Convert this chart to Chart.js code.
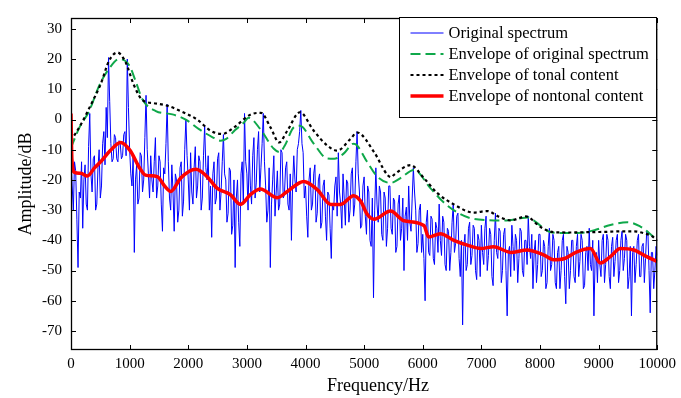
<!DOCTYPE html>
<html>
<head>
<meta charset="utf-8">
<script src="https://cdn.jsdelivr.net/npm/chart.js@4/dist/chart.umd.min.js"></script>
<style>
  html, body { margin: 0; padding: 0; background: #fff; }
  #wrap { width: 681px; height: 398px; }
</style>
</head>
<body>
<div id="wrap"><canvas id="spec" width="681" height="398"></canvas></div>
<script>
/* ---------- Daten ---------- */
// Spektrum: Bins im Abstand von 20 Hz, 0 ... 10000 Hz (eine Zeile = 1000 Hz)
const SPEC_DF = 20;
const SPEC_DB = [
  -12, -22, -30, -14, -17, -33, -49, -24, -26, -14, -36, -20, -15, -28, -30, -9, 2, -18, -24, -13, -12, -30, -28, -16, -10,
  -26, -22, -8, -4, -15, 4, -6, 20.5, 6, -8, -14, -13, -5, -6, -13, -14, -7, -8, -13, -12, -5, -4, -12, 20, 4,
  -10, -18, -22, -12, -44, -20, -15, -28, -26, -11, -12, -24, -20, -6, 8, -10, -18, -26, -12, -20, -24, -14, -6, -26, -22,
  -12, -14, -28, -37, -16, -18, -8, 5, -14, -26, -30, -15, -24, -37, -18, -20, -34, -30, -16, -14, -32, -27, -10, 0, -12,
  -20, -30, -11, -24, -28, -16, -9, -26, -22, -12, -14, -30, -26, -12, -2, -16, -20, -12, -30, -22, -39, -18, -14, -28, -26,
  -13, -11, -30, -24, -14, -5, -18, -20, -34, -31, -16, -17, -38, -35, -20, -49, -26, -20, -34, -42, -18, -14, -28, 2, -14,
  -18, -30, -10, -22, -28, -12, -6, -26, -21, -10, -4, -24, -16, -8, 2, -14, -22, -34, -30, -16, -49, -28, -20, -12, -32,
  -24, -17, -30, -28, -10, -11, -26, -25, -16, -14, -28, -30, -18, -40, -22, -12, -20, -24, -10, -8, -4, 3, -8, -11, -26,
  -22, -32, -39, -20, -16, -30, -28, -18, -15, -34, -31, -20, -18, -36, -34, -22, -20, -32, -40, -24, -25, -36, -46, -28, -30,
  -22, -19, -32, -11, -24, -28, -36, -18, -26, -35, -20, -21, -34, -30, -18, -16, -32, -28, -14, -4, -18, -24, -36, -35, -22,
  -19, -32, -38, -22, -24, -40, -42, -26, -59, -30, -16, -28, -34, -22, -24, -38, -40, -24, -26, -42, -36, -22, -22, -36, -38,
  -26, -27, -44, -42, -28, -25, -40, -36, -26, -50, -32, -29, -40, -22, -34, -37, -26, -16, -24, -30, -44, -41, -30, -28, -44,
  -38, -46, -60, -34, -30, -44, -45, -32, -33, -46, -48, -34, -36, -44, -28, -40, -45, -32, -34, -48, -50, -36, -37, -50, -44,
  -34, -28, -44, -41, -32, -31, -46, -52, -40, -68, -42, -38, -50, -48, -36, -34, -48, -45, -35, -36, -50, -53, -38, -40, -52,
  -35, -44, -48, -36, -32, -50, -45, -36, -38, -52, -55, -40, -31, -44, -46, -36, -37, -54, -50, -38, -36, -50, -65, -44, -42,
  -52, -35, -42, -50, -38, -40, -54, -46, -36, -37, -50, -52, -40, -40, -48, -32, -42, -46, -38, -56, -44, -40, -54, -48, -38,
  -38, -52, -50, -40, -42, -56, -54, -42, -36, -50, -48, -38, -40, -54, -56, -44, -42, -56, -50, -40, -38, -52, -61, -42, -44,
  -56, -50, -40, -40, -52, -54, -42, -38, -52, -47, -38, -40, -56, -55, -44, -42, -50, -36, -48, -50, -40, -65, -46, -44, -54,
  -40, -48, -52, -40, -38, -54, -48, -38, -40, -52, -56, -42, -39, -52, -47, -40, -38, -54, -50, -40, -37, -50, -46, -38, -40,
  -56, -52, -42, -65, -44, -42, -54, -48, -40, -38, -52, -52, -42, -41, -54, -46, -37, -37, -50, -64, -44, -44, -56, -50, -42,
  -45
];

// Hüllkurve des Originalspektrums
const ORIG_ENV_HZ = [0, 145, 310, 485, 655, 820, 995, 1108, 1220, 1447, 1730, 1957, 2183, 2408, 2550, 2640, 2800, 2950,
  3030, 3230, 3460, 3560, 3650, 3800, 3905, 4140, 4370, 4490, 4650, 4820, 4880, 5050, 5225, 5450, 5620, 5850, 6130, 6360,
  6585, 6820, 7100, 7430, 7650, 7780, 8000, 8180, 8450, 8700, 8950, 9200, 9490, 9700, 9850, 10000];
const ORIG_ENV_DB = [-9.3, -2.6, 2.8, 11.4, 17, 20, 17.9, 12.4, 6.6, 2.8, 1.7, 0, -3.2, -5.8, -7, -6.5, -3.5, -1,
  0.6, -3.2, -9.7, -10.8, -8.5, -2.6, -2.1, -8, -12.9, -13, -11.3, -8, -8.6, -14, -18.9, -21, -19.4, -16.7, -22.7, -27.5,
  -30.7, -32.7, -33.3, -33.4, -32.8, -32.4, -35, -37.3, -37.6, -37.5, -36.5, -34.9, -34, -35.3, -37.4, -40];

// Hüllkurve des tonalen Anteils
const TONAL_ENV_HZ = [0, 170, 340, 510, 650, 790, 930, 1073, 1215, 1413, 1640, 1870, 2150, 2380, 2580, 2780, 3070, 3240,
  3405, 3550, 3690, 3905, 4140, 4370, 4540, 4765, 4880, 5170, 5395, 5460, 5510, 5790, 6020, 6245, 6530, 6870, 7100, 7300, 7500,
  7760, 8010, 8230, 8500, 8800, 9100, 9400, 9600, 9800, 9900, 10000];
const TONAL_ENV_DB = [-7, -1.6, 4.9, 11.9, 19.5, 22.2, 19, 11.4, 6.5, 5.4, 4.6, 2.8, 0, -3.7, -4.8, -2.6, 1.7, 2.2,
  -2.7, -7.6, -3.7, 2.4, -3.7, -8.6, -10.3, -6.5, -4.3, -10.8, -18.3, -19.1, -18.3, -15.1, -19.4, -24.3, -28.1, -30.8, -30.3, -32.2, -33.4,
  -32.1, -35.6, -37.3, -37.4, -37.3, -37.2, -37, -37, -37.8, -38.5, -40];

// Hüllkurve des nichttonalen Anteils
const NONTONAL_ENV_HZ = [0, 15, 60, 167, 280, 400, 507, 670, 846, 1010, 1160, 1270, 1470, 1600, 1700, 1870, 2130, 2320,
  2490, 2720, 2890, 3060, 3230, 3520, 3690, 3970, 4200, 4430, 4600, 4820, 4940, 5050, 5170, 5450, 5680, 6020, 6100, 6300,
  6530, 6760, 6990, 7210, 7500, 7780, 8060, 8230, 8410, 8630, 8860, 9030, 9200, 9370, 9600, 9820, 10000];
const NONTONAL_ENV_DB = [2, -13, -17.5, -17.8, -18.7, -16, -14, -10.3, -7.6, -10.3, -15.7, -18.4, -18.9, -22.1, -23.8, -19.4, -16.5, -18.9,
  -22.7, -24.9, -28.1, -24.9, -23, -25.9, -23.8, -20.5, -23.2, -28.1, -28.1, -25.2, -27, -31.3, -33, -30.3, -33.5, -35.1, -38.9, -37.8,
  -40, -41.6, -42.7, -42.1, -44, -43.2, -44.8, -46.4, -46.1, -43.8, -42.7, -47.5, -45.4, -42.7, -43.2, -45.4, -47];

const X_TICKS = [0, 1000, 2000, 3000, 4000, 5000, 6000, 7000, 8000, 9000, 10000];
const Y_TICKS = [30, 20, 10, 0, -10, -20, -30, -40, -50, -60, -70];

const LEGEND_LABELS = [
  "Original spectrum",
  "Envelope of original spectrum",
  "Envelope of tonal content",
  "Envelope of nontonal content",
];
const X_TITLE = "Frequency/Hz";
const Y_TITLE = "Amplitude/dB";

/* ---------- Chart ---------- */
const SERIF = "'Liberation Serif', 'Times New Roman', serif";
const BLUE = "#0000ff";
const GREEN = "#0fa84a";
const RED = "#ff0000";

function pairs(xs, ys) {
  return xs.map((x, i) => ({ x: x, y: ys[i] }));
}

const specData = SPEC_DB.map((v, i) => ({ x: i * SPEC_DF, y: v }));

// Rahmen + nach innen zeigende Ticks auf allen vier Seiten
const frameTicks = {
  id: "frameTicks",
  afterDatasetsDraw(chart) {
    const { ctx, chartArea: a, scales } = chart;
    ctx.save();
    ctx.strokeStyle = "#000";
    ctx.lineWidth = 1;
    ctx.beginPath();
    X_TICKS.forEach((v) => {
      const px = Math.round(scales.x.getPixelForValue(v)) + 0.5;
      ctx.moveTo(px, a.bottom); ctx.lineTo(px, a.bottom - 5);
      ctx.moveTo(px, a.top); ctx.lineTo(px, a.top + 5);
    });
    Y_TICKS.forEach((v) => {
      const py = Math.round(scales.y.getPixelForValue(v)) + 0.5;
      ctx.moveTo(a.left, py); ctx.lineTo(a.left + 5, py);
      ctx.moveTo(a.right, py); ctx.lineTo(a.right - 5, py);
    });
    ctx.stroke();
    ctx.lineWidth = 1.3;
    ctx.strokeRect(a.left + 0.5, a.top + 0.5, a.right - a.left - 1, a.bottom - a.top - 1);

    // x-Achsentitel (im Original leicht nach rechts versetzt)
    ctx.fillStyle = "#000";
    ctx.font = "18px " + SERIF;
    ctx.textAlign = "center";
    ctx.textBaseline = "middle";
    ctx.fillText(X_TITLE, 378, 386);
    ctx.restore();
  },
};

// Legende im Kasten oben rechts (MATLAB-Stil)
const boxLegend = {
  id: "boxLegend",
  afterDraw(chart) {
    const { ctx } = chart;
    const ds = chart.data.datasets;
    const x0 = 399.5, y0 = 17.5, w = 257, h = 100;
    ctx.save();
    ctx.fillStyle = "#fff";
    ctx.fillRect(x0, y0, w, h);
    ctx.strokeStyle = "#000";
    ctx.lineWidth = 1;
    ctx.strokeRect(x0, y0, w, h);
    ctx.font = "16.5px " + SERIF;
    ctx.textBaseline = "middle";
    LEGEND_LABELS.forEach((label, i) => {
      const y = y0 + 15.5 + i * 21;
      const d = ds[i];
      ctx.beginPath();
      ctx.setLineDash(d.borderDash || []);
      ctx.strokeStyle = d.borderColor;
      ctx.lineWidth = d.borderWidth;
      ctx.moveTo(x0 + 11, y);
      ctx.lineTo(x0 + 44, y);
      ctx.stroke();
      ctx.setLineDash([]);
      ctx.fillStyle = "#000";
      ctx.fillText(label, x0 + 49, y + 1);
    });
    ctx.restore();
  },
};

new Chart(document.getElementById("spec"), {
  type: "line",
  data: {
    datasets: [
      {
        data: specData,
        borderColor: BLUE,
        borderWidth: 1,
        pointRadius: 0,
        tension: 0,
        order: 4,
      },
      {
        data: pairs(ORIG_ENV_HZ, ORIG_ENV_DB),
        borderColor: GREEN,
        borderWidth: 2,
        borderDash: [10, 5],
        pointRadius: 0,
        cubicInterpolationMode: "monotone",
        order: 3,
      },
      {
        data: pairs(TONAL_ENV_HZ, TONAL_ENV_DB),
        borderColor: "#000",
        borderWidth: 2.2,
        borderDash: [3, 3],
        pointRadius: 0,
        cubicInterpolationMode: "monotone",
        order: 2,
      },
      {
        data: pairs(NONTONAL_ENV_HZ, NONTONAL_ENV_DB),
        borderColor: RED,
        borderWidth: 3.5,
        pointRadius: 0,
        cubicInterpolationMode: "monotone",
        order: 1,
      },
    ],
  },
  options: {
    responsive: false,
    devicePixelRatio: 1,
    animation: false,
    layout: { padding: { left: 0, top: 11, right: 21, bottom: 0 } },
    plugins: { legend: { display: false }, tooltip: { enabled: false } },
    scales: {
      x: {
        type: "linear",
        min: 0,
        max: 10000,
        afterBuildTicks: (s) => { s.ticks = X_TICKS.map((v) => ({ value: v })); },
        afterFit: (s) => { s.height = 48; },
        grid: { display: false, drawTicks: false },
        border: { display: false },
        ticks: {
          color: "#000",
          padding: 5,
          font: { family: SERIF, size: 15 },
          callback: (v) => String(v),
        },
      },
      y: {
        min: -76.3,
        max: 33.6,
        afterBuildTicks: (s) => { s.ticks = Y_TICKS.map((v) => ({ value: v })); },
        afterFit: (s) => { s.width = 71; },
        grid: { display: false, drawTicks: false },
        border: { display: false },
        ticks: { color: "#000", padding: 9, font: { family: SERIF, size: 15 } },
        title: {
          display: true,
          text: Y_TITLE,
          color: "#000",
          font: { family: SERIF, size: 18 },
          padding: { top: 15, bottom: 0 },
        },
      },
    },
  },
  plugins: [frameTicks, boxLegend],
});
</script>
</body>
</html>
